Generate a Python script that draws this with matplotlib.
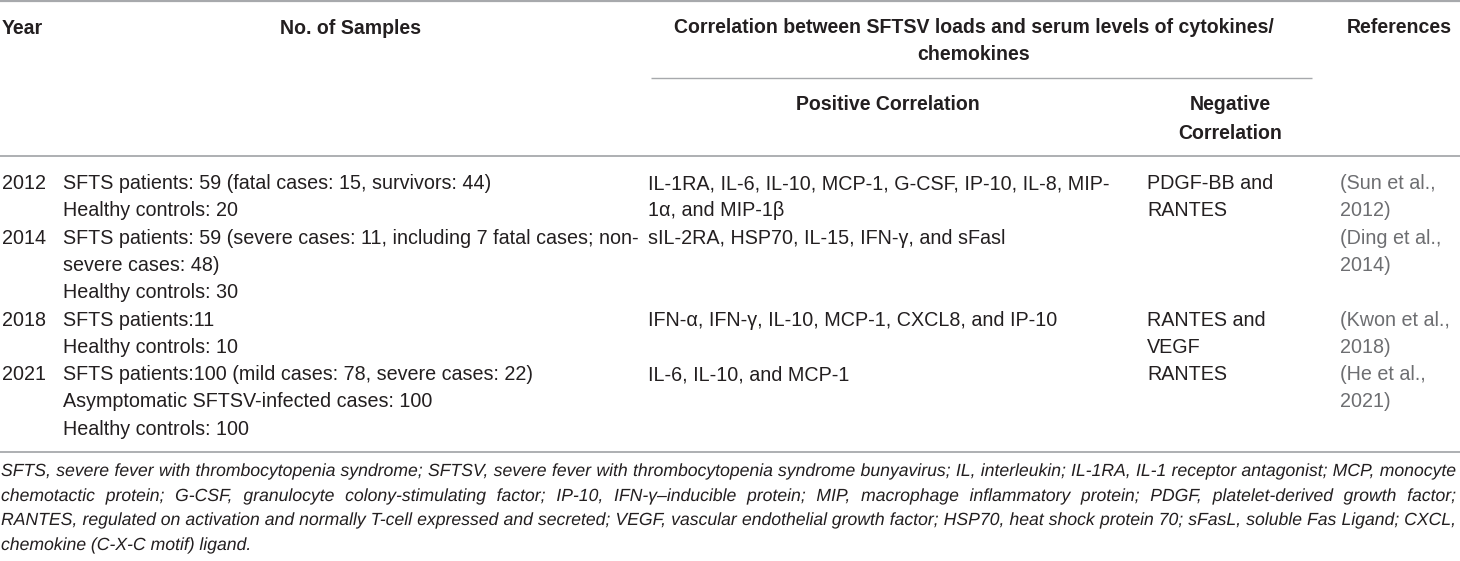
import matplotlib
matplotlib.use('Agg')
import matplotlib.pyplot as plt
import matplotlib.patheffects as pe
from matplotlib import font_manager

W, H = 1460, 561
names = {f.name for f in font_manager.fontManager.ttflist}
FAM = 'Liberation Sans Narrow' if 'Liberation Sans Narrow' in names else 'Liberation Sans'

# ---------------- data ----------------
years = ['2012', '2014', '2018', '2021']
samples = [
    ['SFTS patients: 59 (fatal cases: 15, survivors: 44)', 'Healthy controls: 20'],
    ['SFTS patients: 59 (severe cases: 11, including 7 fatal cases; non-', 'severe cases: 48)',
     'Healthy controls: 30'],
    ['SFTS patients:11', 'Healthy controls: 10'],
    ['SFTS patients:100 (mild cases: 78, severe cases: 22)', 'Asymptomatic SFTSV-infected cases: 100',
     'Healthy controls: 100'],
]
positive = [
    ['IL-1RA, IL-6, IL-10, MCP-1, G-CSF, IP-10, IL-8, MIP-', '1α, and MIP-1β'],
    ['sIL-2RA, HSP70, IL-15, IFN-γ, and sFasl'],
    ['IFN-α, IFN-γ, IL-10, MCP-1, CXCL8, and IP-10'],
    ['IL-6, IL-10, and MCP-1'],
]
negative = [
    ['PDGF-BB and', 'RANTES'],
    [],
    ['RANTES and', 'VEGF'],
    ['RANTES'],
]
references = [
    ['(Sun et al.,', '2012)'],
    ['(Ding et al.,', '2014)'],
    ['(Kwon et al.,', '2018)'],
    ['(He et al.,', '2021)'],
]
header_year = 'Year'
header_samples = 'No. of Samples'
header_corr = ['Correlation between SFTSV loads and serum levels of cytokines/', 'chemokines']
header_refs = 'References'
header_pos = ['Positive Correlation']
header_neg = ['Negative', 'Correlation']
footnote = [
    'SFTS, severe fever with thrombocytopenia syndrome; SFTSV, severe fever with thrombocytopenia syndrome '
    'bunyavirus; IL, interleukin; IL-1RA, IL-1 receptor antagonist; MCP, monocyte',
    'chemotactic protein; G-CSF, granulocyte colony-stimulating factor; IP-10, IFN-γ–inducible protein; '
    'MIP, macrophage inflammatory protein; PDGF, platelet-derived growth factor;',
    'RANTES, regulated on activation and normally T-cell expressed and secreted; VEGF, vascular endothelial '
    'growth factor; HSP70, heat shock protein 70; sFasL, soluble Fas Ligand; CXCL,',
    'chemokine (C-X-C motif) ligand.',
]

# ---------------- layout ----------------
TXT = '#231f20'
REF = '#6d6e71'
LINE = '#a7a9ac'
PX = 100 / 72

fig = plt.figure(figsize=(W / 100, H / 100), dpi=100)
ax = fig.add_axes([0, 0, 1, 1])
ax.set_xlim(0, W)
ax.set_ylim(H, 0)
ax.axis('off')
r = fig.canvas.get_renderer()


def width(s, size, **kw):
    t = ax.text(0, 0, s, fontsize=size, family=FAM, **kw)
    w = t.get_window_extent(r).width
    t.remove()
    return w


def fit(s, target, **kw):
    return 12 * target / width(s, 12, **kw)


def base(yc, fs):
    # baseline position for a visual (cap-height) centre yc
    return round(yc + 0.5 * 0.716 * fs * PX)


body_fs = fit(samples[1][0], 574)
head_fs = (fit(header_corr[0], 632, weight='bold') + fit(header_refs, 99, weight='bold')
           + fit(header_neg[1], 105, weight='bold') + fit(header_samples, 138, weight='bold')) / 4

# rules
ax.plot([0, W], [1.2, 1.2], color=LINE, lw=1.6, solid_capstyle='butt')
ax.plot([651, 1312], [78, 78], color=LINE, lw=1.0, solid_capstyle='butt')
ax.plot([0, W], [156, 156], color=LINE, lw=1.3, solid_capstyle='butt')
ax.plot([0, W], [452, 452], color=LINE, lw=1.3, solid_capstyle='butt')


def htext(x, y, s, ha='center'):
    ax.text(x, base(y, head_fs), s, fontsize=head_fs, family=FAM, weight='bold', color=TXT,
            ha=ha, va='baseline')


htext(2, 27, header_year, ha='left')
htext(351, 27, header_samples)
for i, s in enumerate(header_corr):
    htext(974, 26 + i * 27, s)
htext(1399, 26, header_refs)
for i, s in enumerate(header_pos):
    htext(888, 103 + i * 29, s)
for i, s in enumerate(header_neg):
    htext(1230, 103 + i * 29, s)

# body
ROW0, DY = 182, 27.3
X_YEAR, X_SAMP, X_POS, X_NEG, X_REF = 2, 63, 648, 1147, 1340
k = 0
for g in range(len(years)):
    def cell(x, lines, color=TXT):
        for j, s in enumerate(lines):
            ax.text(x, base(ROW0 + (k + j) * DY, body_fs), s, fontsize=body_fs, family=FAM,
                    color=color, ha='left', va='baseline')
    cell(X_YEAR, [years[g]])
    cell(X_SAMP, samples[g])
    cell(X_POS, positive[g])
    cell(X_NEG, negative[g])
    cell(X_REF, references[g], REF)
    k += max(len(samples[g]), len(positive[g]), len(negative[g]), len(references[g]))

# footnote (justified word by word; drawn through a path effect so that all words
# of a line share exactly the same baseline without pixel snapping)
foot_fs = fit(footnote[0], 1446, style='italic')
sp = width('a a', foot_fs, style='italic') - width('aa', foot_fs, style='italic')
FY0, FDY = 470, 24.5
for i, line in enumerate(footnote):
    words = line.split(' ')
    ws = [width(w, foot_fs, style='italic') for w in words]
    last = i == len(footnote) - 1
    gap = sp if last else (1455 - sum(ws)) / (len(words) - 1)
    x = 1
    yb = base(FY0 + i * FDY, foot_fs)
    for w, wd in zip(words, ws):
        ax.text(x, yb, w, fontsize=foot_fs, family=FAM, style='italic', color=TXT,
                ha='left', va='baseline', path_effects=[pe.Normal()])
        x += wd + gap

fig.savefig('out.png', dpi=100)
